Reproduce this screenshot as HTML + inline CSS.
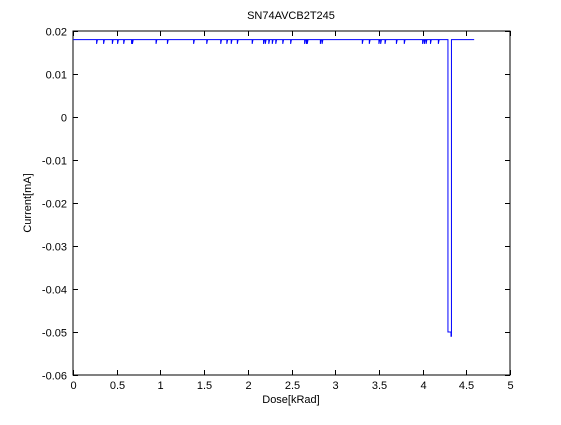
<!DOCTYPE html>
<html><head><meta charset="utf-8"><style>
body{margin:0;background:#fff;}
svg text{font-family:"Liberation Sans",Arial,sans-serif;font-size:11px;fill:#000;}
</style></head><body>
<svg id="chart" width="561" height="420" xmlns="http://www.w3.org/2000/svg">
<rect width="561" height="420" fill="#fff"/>
<g id="axes"></g>
<g id="series"></g>
</svg>
<script>
const xTicks=[0,0.5,1,1.5,2,2.5,3,3.5,4,4.5,5];
const xTickLabels=["0","0.5","1","1.5","2","2.5","3","3.5","4","4.5","5"];
const yTicks=[0.02,0.01,0,-0.01,-0.02,-0.03,-0.04,-0.05,-0.06];
const yTickLabels=["0.02","0.01","0","-0.01","-0.02","-0.03","-0.04","-0.05","-0.06"];
const baseCurrent=0.018;
const dipCurrent=0.017;
const dipDoses=[0.27,0.35,0.45,0.51,0.58,0.67,0.68,0.95,1.08,1.38,1.53,1.69,1.76,1.81,1.88,2.05,2.18,2.20,2.24,2.28,2.32,2.40,2.49,2.65,2.67,2.68,2.83,2.85,3.31,3.39,3.50,3.52,3.57,3.70,3.79,4.00,4.02,4.04,4.09,4.18];
const bigDipDoses=[4.29,4.325,4.325,4.33,4.33];
const bigDipCurrents=[-0.05,-0.05,-0.051,-0.051,-0.05];
const startDose=0, endDose=4.59;

const L=73,R=510,T=31,B=375;
const xs=d=>L+(d-0)/(5-0)*(R-L);
const ys=v=>T+(0.02-v)/(0.08)*(B-T);
const NS="http://www.w3.org/2000/svg";
const ax=document.getElementById('axes');
function mk(tag,attrs,parent){const e=document.createElementNS(NS,tag);for(const k in attrs)e.setAttribute(k,attrs[k]);parent.appendChild(e);return e;}
const box=mk('rect',{x:L,y:T,width:R-L,height:B-T,fill:'none',stroke:'#000','stroke-width':1},ax);


xTicks.forEach((t,i)=>{
 const x=Math.round(xs(t))+0.5;
 mk('line',{x1:x,x2:x,y1:B,y2:B-5,stroke:'#000'},ax);
 mk('line',{x1:x,x2:x,y1:T,y2:T+5,stroke:'#000'},ax);
 const tx=mk('text',{x:x,y:B+14,'text-anchor':'middle'},ax);tx.textContent=xTickLabels[i];
 
 
});
yTicks.forEach((t,i)=>{
 const y=Math.round(ys(t))+0.5;
 mk('line',{x1:L,x2:L+5,y1:y,y2:y,stroke:'#000'},ax);
 mk('line',{x1:R,x2:R-5,y1:y,y2:y,stroke:'#000'},ax);
 const tx=mk('text',{x:L-6,y:y+4,'text-anchor':'end'},ax);tx.textContent=yTickLabels[i];
 
 
});
const title=mk('text',{x:291,y:19,'text-anchor':'middle'},ax);title.textContent="SN74AVCB2T245";


const xl=mk('text',{x:291,y:403,'text-anchor':'middle'},ax);xl.textContent="Dose[kRad]";


const yl=mk('text',{x:0,y:0,'text-anchor':'middle',transform:'translate(31,203) rotate(-90)'},ax);yl.textContent="Current[mA]";



let d='M'+xs(startDose)+','+ys(baseCurrent);
dipDoses.forEach(v=>{const x=xs(v);d+=' L'+x+','+ys(baseCurrent)+' L'+x+','+ys(dipCurrent)+' L'+(x+0.8)+','+ys(baseCurrent);});
d+=' L'+xs(bigDipDoses[0])+','+ys(baseCurrent);
bigDipDoses.forEach((v,i)=>{d+=' L'+xs(v)+','+ys(bigDipCurrents[i]);});
d+=' L'+xs(bigDipDoses[bigDipDoses.length-1])+','+ys(baseCurrent)+' L'+xs(endDose)+','+ys(baseCurrent);
const p=mk('path',{d:d,fill:'none',stroke:'#0000ff','stroke-width':1},document.getElementById('series'));


</script>
</body></html>
